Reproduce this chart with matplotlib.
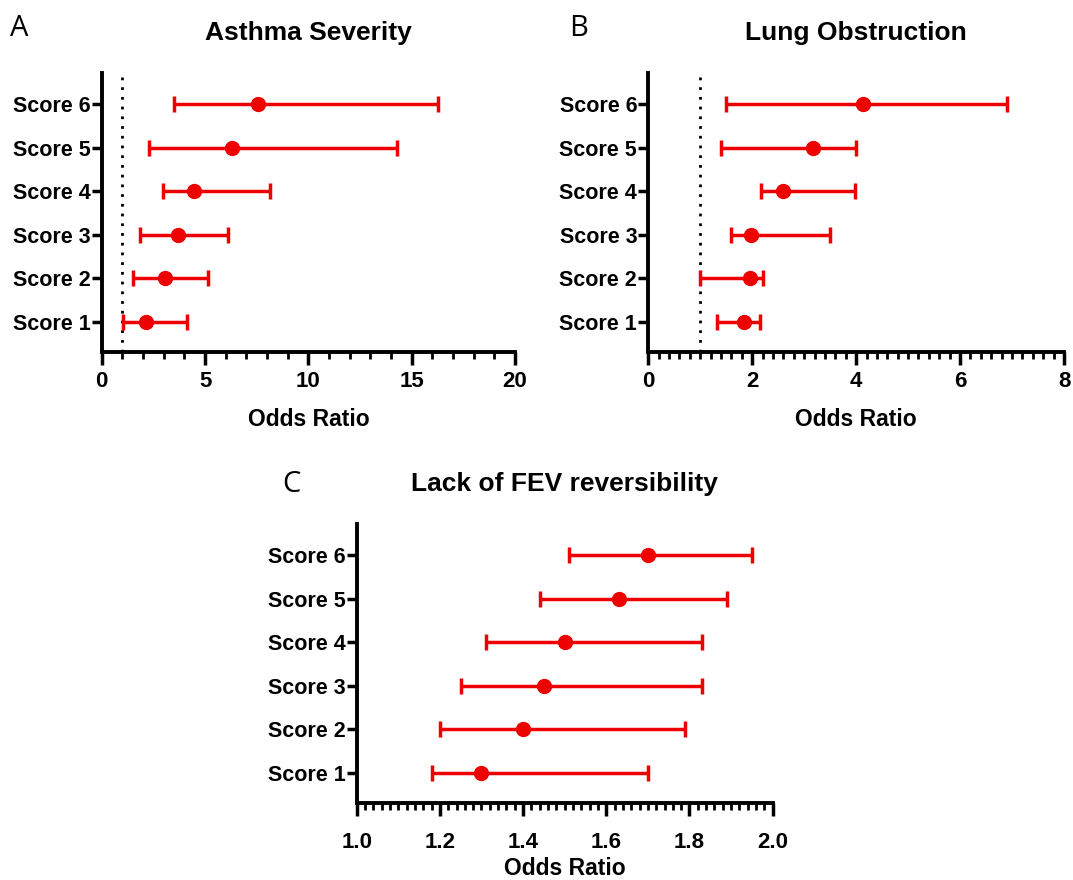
import matplotlib
matplotlib.use("Agg")
import matplotlib.pyplot as plt
from matplotlib.ticker import MultipleLocator, FormatStrFormatter

plt.rcParams['font.family'] = ['Liberation Sans', 'DejaVu Sans']

scores = ['Score 1', 'Score 2', 'Score 3', 'Score 4', 'Score 5', 'Score 6']

# Asthma severity
a_or = [2.16, 3.08, 3.68, 4.48, 6.30, 7.58]
a_lo = [1.05, 1.50, 1.85, 2.95, 2.27, 3.51]
a_hi = [4.14, 5.16, 6.13, 8.14, 14.27, 16.29]

# Lung obstruction
b_or = [1.85, 1.96, 1.98, 2.59, 3.17, 4.13]
b_lo = [1.32, 1.00, 1.59, 2.16, 1.39, 1.50]
b_hi = [2.14, 2.20, 3.50, 3.98, 4.00, 6.90]

# Lack of FEV reversibility
c_or = [1.30, 1.40, 1.45, 1.50, 1.63, 1.70]
c_lo = [1.18, 1.20, 1.25, 1.31, 1.44, 1.51]
c_hi = [1.70, 1.79, 1.83, 1.83, 1.89, 1.95]

fig = plt.figure(figsize=(10.73, 8.8), dpi=100)

red = '#ee0000'


def forest(ax, orr, lo, hi, xlim, major, minor, fmt, title, refline, tpad, lpad, titlepad):
    y = list(range(1, len(scores) + 1))
    xerr = [[o - l for o, l in zip(orr, lo)], [h - o for o, h in zip(orr, hi)]]
    ax.errorbar(orr, y, xerr=xerr, fmt='o', color=red, ecolor=red,
                elinewidth=2.5, capsize=6, capthick=2.5, markersize=10, zorder=3)
    if refline:
        ax.axvline(1, color='black', linestyle=(0, (1, 2.5)), linewidth=2, zorder=1)
    ax.set_xlim(*xlim)
    ax.set_ylim(0.3, 6.72)
    ax.set_yticks(y)
    ax.set_yticklabels(scores, fontsize=15.5, fontweight='bold')
    ax.xaxis.set_major_locator(MultipleLocator(major))
    ax.xaxis.set_minor_locator(MultipleLocator(minor))
    ax.xaxis.set_major_formatter(FormatStrFormatter(fmt))
    ax.tick_params(axis='x', which='major', length=9, width=2.5, labelsize=16, pad=tpad)
    ax.tick_params(axis='x', which='minor', length=5, width=2)
    ax.tick_params(axis='y', length=7, width=2.5, pad=1)
    for s in ['top', 'right']:
        ax.spines[s].set_visible(False)
    for s in ['left', 'bottom']:
        ax.spines[s].set_linewidth(2.8)
    ax.set_xlabel('Odds Ratio', fontsize=16.5, fontweight='bold', labelpad=lpad)
    ax.set_title(title, fontsize=19, fontweight='bold', pad=titlepad)
    for lab in ax.get_xticklabels():
        lab.set_fontweight('bold')


axA = fig.add_axes([0.0948, 0.600, 0.3852, 0.317])
forest(axA, a_or, a_lo, a_hi, (0, 20), 5, 1, '%d', 'Asthma Severity', True, 5, 11, 24)

axB = fig.add_axes([0.6042, 0.600, 0.3874, 0.317])
forest(axB, b_or, b_lo, b_hi, (0, 8), 2, 0.2, '%d', 'Lung Obstruction', True, 5, 11, 24)

axC = fig.add_axes([0.3324, 0.0875, 0.3877, 0.317])
forest(axC, c_or, c_lo, c_hi, (1.0, 2.0), 0.2, 0.02, '%.1f', 'Lack of FEV reversibility',
       False, 12, 2.5, 24)

fig.text(0.009, 0.968, 'A', fontsize=21, family='Open Sans', va='center')
fig.text(0.530, 0.968, 'B', fontsize=21, family='Open Sans', va='center')
fig.text(0.263, 0.449, 'C', fontsize=21, family='Open Sans', va='center')

fig.savefig('out.png', dpi=100)
